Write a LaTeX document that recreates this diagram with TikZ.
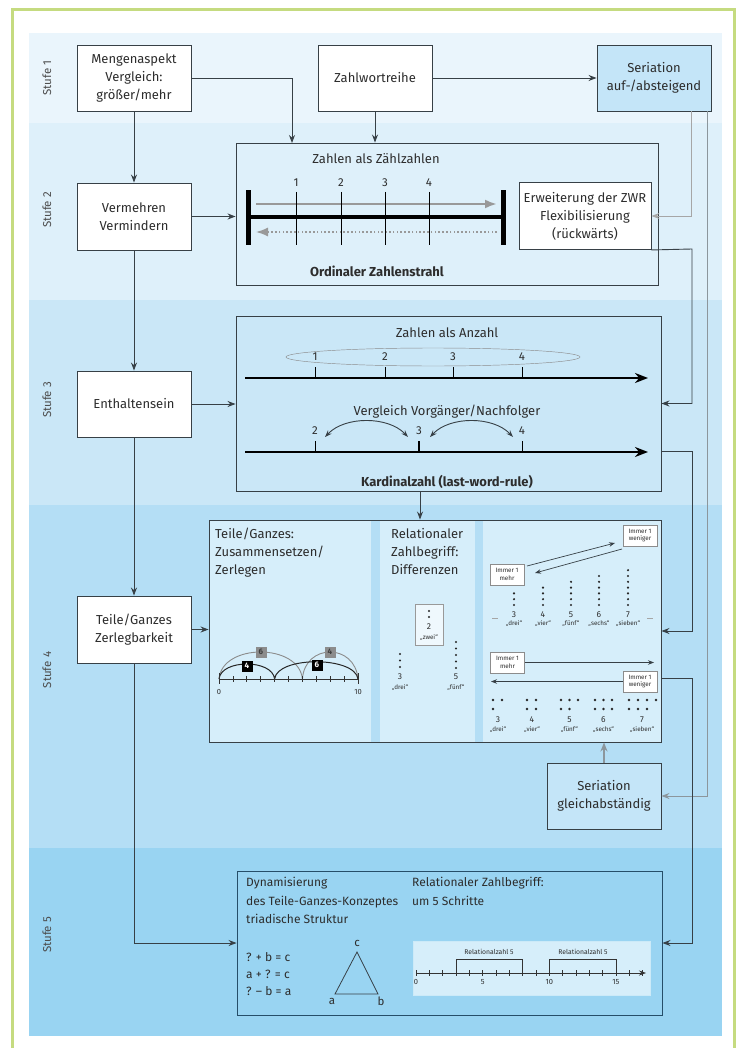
\documentclass[tikz,border=0pt]{standalone}
\usepackage{fontspec}
\setmainfont{Fira Sans}
\usetikzlibrary{arrows.meta,calc}
\definecolor{bandA}{RGB}{234,245,252}
\definecolor{bandB}{RGB}{222,240,250}
\definecolor{bandC}{RGB}{202,231,247}
\definecolor{bandD}{RGB}{180,222,245}
\definecolor{bandE}{RGB}{153,212,242}
\definecolor{subfill}{RGB}{214,238,250}
\definecolor{serfill}{RGB}{196,229,248}
\definecolor{frameg}{RGB}{197,219,128}
\definecolor{lineC}{RGB}{55,64,70}
\definecolor{grayC}{RGB}{140,150,156}
\definecolor{txt}{RGB}{45,45,45}
\definecolor{navy}{RGB}{38,78,105}
\newcommand\fmain{\fontsize{13}{18}\selectfont}
\newcommand\ffive{\fontsize{12}{18.5}\selectfont}
\newcommand\fsmall{\fontsize{11.5}{14}\selectfont}
\newcommand\ftiny{\fontsize{8.5}{9}\selectfont}
\newcommand\fmini{\fontsize{6.3}{7}\selectfont}
\begin{document}
\begin{tikzpicture}[x=1pt,y=-1pt,
  box/.style={draw=lineC,line width=0.9pt,fill=white,align=center,minimum width=114pt,minimum height=66pt,inner sep=2pt,font=\fmain,text=txt},
  conn/.style={draw=lineC,line width=0.9pt,-{Stealth[length=8pt,width=6pt]}},
  gconn/.style={draw=grayC,line width=0.9pt,-{Stealth[length=8pt,width=6pt]}},
  stufe/.style={rotate=90,font=\fsmall,text=black!70},
  lbl/.style={font=\fmain,text=txt,inner sep=0pt},
  num/.style={font=\fsmall,text=txt,inner sep=0pt},
  sm/.style={font=\ftiny,text=txt,inner sep=0pt},
  mini/.style={font=\fmini,text=txt,inner sep=0pt},
  immer/.style={draw=black!45,fill=white,line width=0.6pt,minimum width=34pt,minimum height=21pt,inner sep=0pt,align=center,font=\fontsize{6.3}{7.5}\selectfont,text=txt},
  arr/.style={draw=lineC,line width=0.7pt,-{Stealth[length=6pt,width=4.5pt]}}
]
\useasboundingbox (0,0) rectangle (739,1048);
% bands
\fill[bandA] (29,33) rectangle (722,123);
\fill[bandB] (29,123) rectangle (722,300);
\fill[bandC] (29,300) rectangle (722,505);
\fill[bandD] (29,505) rectangle (722,848);
\fill[bandE] (29,848) rectangle (722,1036);
% frame
\draw[frameg,line width=3pt] (12,1048) -- (12,10) -- (734,10) -- (734,1048);
% stufe labels
\node[stufe] (s1) at (47,78) {Stufe 1};
\node[stufe] (s2) at (47,210) {Stufe 2};
\node[stufe] (s3) at (47,400) {Stufe 3};
\node[stufe] (s4) at (47,670) {Stufe 4};
\node[stufe] (s5) at (47,935) {Stufe 5};
% left column boxes
\node[box] (A) at (134,78) {Mengenaspekt\\Vergleich:\\größer/mehr};
\node[box] (B) at (375,78) {Zahlwortreihe};
\node[box,fill=serfill] (C) at (654,78) {Seriation\\auf-/absteigend};
\node[box,minimum height=67pt] (D) at (134,216.5) {Vermehren\\Vermindern};
\node[box] (G) at (134,404) {Enthaltensein};
\node[box,minimum height=67pt] (I) at (134,629.5) {Teile/Ganzes\\Zerlegbarkeit};
\node[box,fill=serfill] (J) at (604,796) {Seriation\\gleichabständig};
% Stufe 2 box
\node[draw=lineC,line width=0.9pt,minimum width=422pt,minimum height=142pt,inner sep=0pt] (E) at (447,214) {};
\node[box,minimum width=132pt,minimum height=67pt] (F) at (585,216) {Erweiterung der ZWR\\Flexibilisierung\\(rückwärts)};
\node[lbl] (e1) at (376,159) {Zahlen als Zählzahlen};
\node[lbl,font=\fmain\bfseries] (e2) at (377,271) {Ordinaler Zahlenstrahl};
\draw[black!40,line width=2.5pt,-{Latex[length=12pt,width=9pt]}] (256,204) -- (497,204);
\draw[black!40,line width=1.4pt,dash pattern=on 1.6pt off 2.2pt,-{Latex[length=12pt,width=9pt]}] (497,232) -- (256,232);
\draw[black,line width=4pt] (248,217) -- (503,217);
\fill[black] (245.5,190) rectangle (250.5,245);
\fill[black] (500.5,190) rectangle (505.5,245);
\foreach \x/\n in {296/1,341/2,385/3,429/4}{
  \draw[black,line width=0.7pt] (\x,192) -- (\x,245);
  \node[num] (z\n) at (\x,183) {\n};
}
% Stufe 3 box
\node[draw=lineC,line width=0.9pt,minimum width=425pt,minimum height=175pt,inner sep=0pt] (H) at (448.5,403.5) {};
\node[lbl] (h3) at (447,333) {Zahlen als Anzahl};
\draw[black!45,line width=0.45pt] (433,357) ellipse (147 and 9);
\draw[black,line width=2.6pt,-{Stealth[length=13pt,width=10pt]}] (245,378) -- (648,378);
\foreach \x/\n in {315/1,385/2,453/3,522/4}{
  \draw[black,line width=0.8pt] (\x,367) -- (\x,378);
  \node[num,fill=bandC,inner sep=0.5pt] (a\n) at (\x,357) {\n};
}
\node[lbl] (h4) at (447,412) {Vergleich Vorgänger/Nachfolger};
\draw[black,line width=2.6pt,-{Stealth[length=13pt,width=10pt]}] (245,452) -- (648,452);
\foreach \x/\n/\w in {315/2/0.8,419/3/1.4,522/4/0.8}{
  \draw[black,line width=\w pt] (\x,441) -- (\x,452);
  \node[num] (b\n) at (\x,431) {\n};
}
\draw[lineC,line width=0.9pt,{Stealth[length=7pt,width=5pt]}-{Stealth[length=7pt,width=5pt]}] (325,437) .. controls (345,416) and (388,416) .. (408,437);
\draw[lineC,line width=0.9pt,{Stealth[length=7pt,width=5pt]}-{Stealth[length=7pt,width=5pt]}] (430,437) .. controls (450,416) and (493,416) .. (513,437);
\node[lbl,font=\fmain\bfseries] (h5) at (447,482) {Kardinalzahl (last-word-rule)};
% Stufe 4 panel
\fill[subfill] (209,520) rectangle (371,742);
\fill[subfill] (380,520) rectangle (475,742);
\fill[subfill] (483,520) rectangle (661,742);
\node[draw=lineC,line width=0.9pt,minimum width=452pt,minimum height=222pt,inner sep=0pt] (P4) at (435,631) {};
\node[lbl,anchor=north west,align=left] (p4a) at (215,528) {Teile/Ganzes:\\Zusammensetzen/\\Zerlegen};
\node[lbl,anchor=north west,align=left] (p4b) at (391,528) {Relationaler\\Zahlbegriff:\\Differenzen};
% left sub-panel number line
\draw[black!45,line width=0.9pt] (219,679) .. controls (222,643) and (299,643) .. (302.4,679);
\draw[black!45,line width=0.9pt] (302.4,679) .. controls (305,643) and (355,643) .. (358,679);
\draw[black!85,line width=1pt] (219,679) .. controls (221,659) and (272.6,659) .. (274.6,679);
\draw[black!85,line width=1pt] (274.6,679) .. controls (277,656) and (355,656) .. (358,679);
\draw[black!80,line width=0.8pt] (219,679) -- (358,679);
\foreach \k in {1,...,9}{ \draw[black!80,line width=0.7pt] ({219+13.9*\k},676) -- ({219+13.9*\k},682); }
\draw[black!80,line width=0.8pt] (219,673) -- (219,684);
\draw[black!80,line width=0.8pt] (358,673) -- (358,684);
\node[mini,font=\fontsize{7.5}{8}\selectfont] (l0) at (219,692) {0};
\node[mini,font=\fontsize{7.5}{8}\selectfont] (l10) at (358,692) {10};
\node[fill=black!45,minimum size=11pt,inner sep=0pt,font=\fontsize{8}{9}\selectfont\bfseries,text=black!75] (g6) at (261,652) {6};
\node[fill=black!45,minimum size=11pt,inner sep=0pt,font=\fontsize{8}{9}\selectfont\bfseries,text=black!75] (g4) at (330,652) {4};
\node[fill=black,minimum size=11pt,inner sep=0pt,font=\fontsize{8}{9}\selectfont\bfseries,text=white] (k4) at (247,666) {4};
\node[fill=black,minimum size=11pt,inner sep=0pt,font=\fontsize{8}{9}\selectfont\bfseries,text=white] (k6) at (317,665) {6};
% middle sub-panel
\node[draw=black!40,fill=white!60!subfill,line width=0.6pt,minimum width=28pt,minimum height=41pt,inner sep=0pt] (zw) at (429,624.5) {};
\fill[black!85] (429,611) circle (1.2) (429,617) circle (1.2);
\node[sm] (zw2) at (429,627) {2};
\node[mini] (zw3) at (429,638) {„zwei“};
\foreach \k in {0,1,2}{ \fill[black!85] (400,{654+6.5*\k}) circle (1.2); }
\foreach \k in {0,...,4}{ \fill[black!85] (456,{642+6.5*\k}) circle (1.2); }
\node[sm] (d3) at (400,677) {3};
\node[mini] (d3w) at (400,688) {„drei“};
\node[sm] (d5) at (456,677) {5};
\node[mini] (d5w) at (456,688) {„fünf“};
% right sub-panel top
\node[immer] (w1) at (640,535.5) {Immer 1\\weniger};
\node[immer] (m1) at (507,574.5) {Immer 1\\mehr};
\draw[arr] (527,566) -- (615,543);
\draw[arr] (622,549) -- (535,573);
\foreach \x/\n/\w in {514/3/drei,543/4/vier,571/5/fünf,599/6/sechs,628/7/sieben}{
  \foreach \k in {1,...,\n}{ \fill[black!85] (\x,{605-5.8*(\k-1)}) circle (1.2); }
  \node[sm] (t\n) at (\x,615) {\n};
  \node[mini] (u\n) at (\x,624) {„\w“};
}
\draw[black!35,line width=0.6pt] (492,618) -- (498,618);
\draw[black!35,line width=0.6pt] (647,618) -- (653,618);
% right sub-panel bottom
\node[immer] (m2) at (507.5,662.5) {Immer 1\\mehr};
\node[immer] (w2) at (640,681.5) {Immer 1\\weniger};
\draw[arr] (m2.east) -- (654,662.5);
\draw[arr] (w2.west) -- (491,681.5);
\foreach \p in {(493,700),(502,700),(493,709),
  (527,700),(536,700),(527,709),(536,709),
  (561,700),(569.5,700),(578,700),(561,709),(569.5,709),
  (595,700),(603.5,700),(612,700),(595,709),(603.5,709),(612,709),
  (629,700),(638,700),(647,700),(656,700),(629,709),(638,709),(647,709)}{ \fill[black!85] \p circle (1.3); }
\foreach \x/\n/\w in {498/3/drei,532/4/vier,569.5/5/fünf,603.5/6/sechs,642/7/sieben}{
  \node[sm] (v\n) at (\x,720) {\n};
  \node[mini] (y\n) at (\x,730) {„\w“};
}
% Stufe 5 box
\node[draw=navy,line width=0.9pt,fill=bandE,minimum width=425pt,minimum height=144pt,inner sep=0pt] (K) at (449.5,943) {};
\node[lbl,font=\ffive,anchor=north west,align=left] (k1) at (246,877) {Dynamisierung\\des Teile-Ganzes-Konzeptes\\triadische Struktur};
\node[lbl,font=\ffive,anchor=north west,align=left] (k2) at (412,877) {Relationaler Zahlbegriff:\\um 5 Schritte};
\node[lbl,font=\ffive,anchor=west] (q1) at (246,957) {? + b = c};
\node[lbl,font=\ffive,anchor=west] (q2) at (246,974) {a + ? = c};
\node[lbl,font=\ffive,anchor=west] (q3) at (246,991) {? – b = a};
\coordinate (tc) at (357,952);
\coordinate (ta) at (335,994);
\coordinate (tb) at (378,994);
\draw[lineC,line width=0.8pt] (tc) -- (ta) -- (tb) -- cycle;
\node[num] (lc) at (357,943) {c};
\node[num] (la) at (332,1001) {a};
\node[num] (lb) at (381,1001) {b};
\node[draw=white!50!bandE,fill=subfill,line width=0.5pt,minimum width=237pt,minimum height=54pt,inner sep=0pt] (NL) at (531.5,968) {};
\draw[black!80,line width=0.7pt,-{Stealth[length=7pt,width=5pt]}] (416,973) -- (646,973);
\foreach \k in {0,...,17}{ \draw[black!80,line width=0.6pt] ({416+13.33*\k},970) -- ({416+13.33*\k},976); }
\draw[black!80,line width=0.6pt] (456,973) -- (456,959) -- (522.6,959) -- (522.6,973);
\draw[black!80,line width=0.6pt] (549.3,973) -- (549.3,959) -- (616,959) -- (616,973);
\node[mini,font=\fontsize{6.8}{7}\selectfont] (r1) at (489,952) {Relationalzahl 5};
\node[mini,font=\fontsize{6.8}{7}\selectfont] (r2) at (583,952) {Relationalzahl 5};
\foreach \k/\n in {0/0,5/5,10/10,15/15}{ \node[mini,font=\fontsize{7.5}{8}\selectfont] (n\n) at ({416+13.33*\k},982) {\n}; }
% connectors
\coordinate (eA) at (292,143);
\draw[conn] (A.east) -| (eA);
\draw[conn] (B.south) -- (B.south |- E.north);
\draw[conn] (B.east) -- (C.west);
\draw[conn] (A.south) -- (D.north);
\draw[conn] (D.south) -- (G.north);
\draw[conn] (G.south) -- (I.north);
\draw[conn] (I.south) |- (K.west);
\draw[conn] (D.east) -- (D.east -| E.west);
\draw[conn] (G.east) -- (G.east -| H.west);
\draw[conn] (I.east) -- (I.east -| P4.west);
\coordinate (c1) at (691,111);
\coordinate (c2) at (707,111);
\draw[gconn,draw=black!35] (c1) |- (F.east);
\draw[gconn] (c2) |- (J.east);
\draw[conn] (F.south east) -- (692,249) |- (H.east);
\coordinate (hx) at (661,451);
\draw[conn] (hx) -- (692,451) |- (P4.east);
\coordinate (h1) at (420,491);
\draw[conn] (h1) -- (h1 |- P4.north);
\coordinate (px) at (661,678);
\draw[conn] (px) -- (692,678) |- (K.east);
\draw[gconn,line width=2pt,-{Stealth[length=9pt,width=7pt]}] (J.north) -- (J.north |- P4.south);
\end{tikzpicture}
\end{document}
